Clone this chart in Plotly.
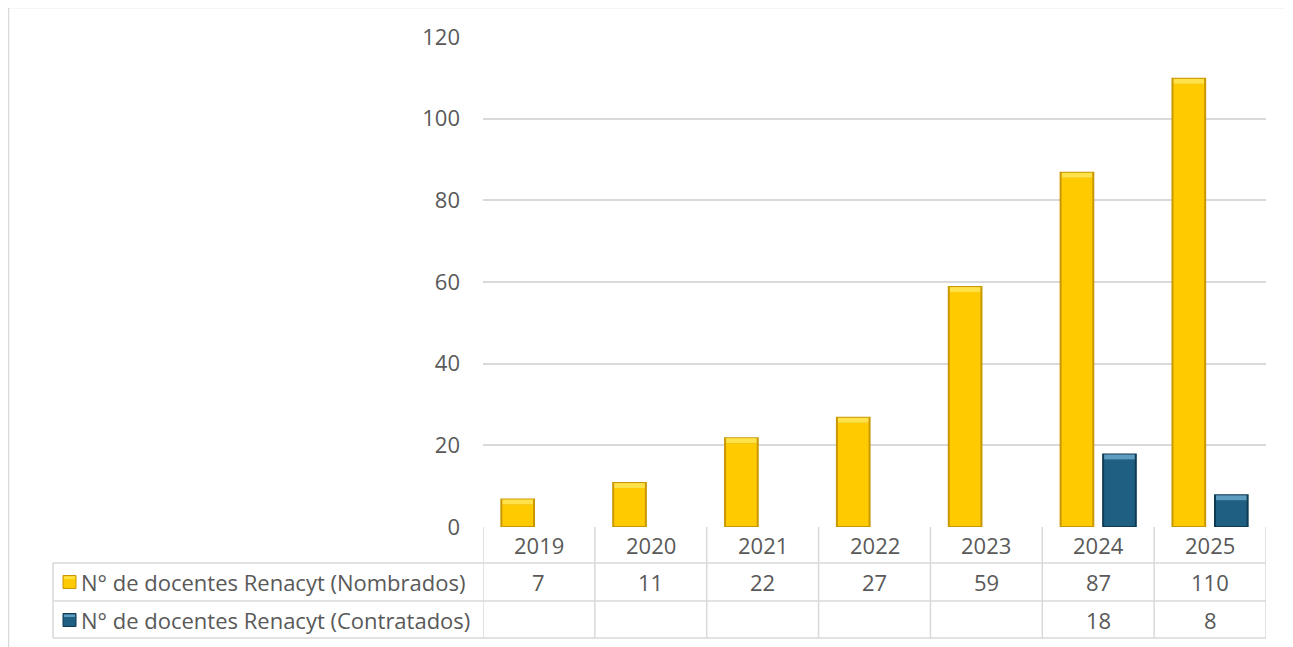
import plotly.graph_objects as go

years = ["2019", "2020", "2021", "2022", "2023", "2024", "2025"]
nombrados = [7, 11, 22, 27, 59, 87, 110]
contratados = [None, None, None, None, None, 18, 8]
series_names = ["N° de docentes Renacyt (Nombrados)", "N° de docentes Renacyt (Contratados)"]
y_ticks = [0, 20, 40, 60, 80, 100, 120]

# page offset of the plot div is 8px (body margin); positions below are page px
OFF = 8
W, H = 1285, 639
L, R, T, B = 483 - OFF, 1266 - OFF, 37 - OFF, 527 - OFF
pw, ph = R - L, B - T
YMAX = 120
cat_px = pw / len(years)
unit_px = ph / YMAX

def px_x(x):
    return (x - OFF - L) / pw

def px_y(y):
    return (B - (y - OFF)) / ph

grid = "#D9D9D9"
txt = "#595959"
FONT = "Open Sans, Liberation Sans, Arial, sans-serif"
FS = 22

styles = [
    dict(edge="#C99700", face="#FFCB00", top="#FFE24A", offset=-0.345),
    dict(edge="#0E3A52", face="#1F5F82", top="#5E9CC0", offset=0.035),
]
BW = 0.31
side = 2.0 / cat_px          # side bevel in category units
cap = 6.0 / unit_px          # top bevel in data units
rim = 1.0 / unit_px

fig = go.Figure()
for name, vals, st in zip(series_names, [nombrados, contratados], styles):
    xs = [i for i, v in enumerate(vals) if v is not None]
    vs = [v for v in vals if v is not None]
    # edge (dark body)
    fig.add_trace(go.Bar(x=xs, y=vs, name=name, width=BW, offset=st["offset"],
                         marker=dict(color=st["edge"], line=dict(width=0))))
    # face
    fig.add_trace(go.Bar(x=xs, y=[v - cap - rim for v in vs], base=[rim] * len(vs),
                         width=BW - 2 * side, offset=st["offset"] + side, showlegend=False,
                         marker=dict(color=st["face"], line=dict(width=0))))
    # top highlight
    fig.add_trace(go.Bar(x=xs, y=[cap - rim] * len(vs), base=[v - cap for v in vs],
                         width=BW - 2 * side, offset=st["offset"] + side, showlegend=False,
                         marker=dict(color=st["top"], line=dict(width=0))))

shapes = []
ann = []

# outer chart border
shapes.append(dict(type="rect", xref="paper", yref="paper",
                   x0=px_x(8.5), x1=px_x(1293 + 20), y0=px_y(647 + 20), y1=px_y(7.5),
                   line=dict(color=grid, width=1.5), layer="below"))

row_lines = [563, 601, 638]
row_centers = [582, 620]
header_center = 545

for yl in row_lines:
    shapes.append(dict(type="line", xref="paper", yref="paper",
                       x0=px_x(53), x1=1, y0=px_y(yl), y1=px_y(yl),
                       line=dict(color=grid, width=1.5)))
for i in range(len(years) + 1):
    shapes.append(dict(type="line", xref="x", yref="paper",
                       x0=i - 0.5, x1=i - 0.5, y0=px_y(638), y1=0,
                       line=dict(color=grid, width=1.5)))
shapes.append(dict(type="line", xref="paper", yref="paper",
                   x0=px_x(53), x1=px_x(53), y0=px_y(638), y1=px_y(563),
                   line=dict(color=grid, width=1.5)))

for i, yr in enumerate(years):
    ann.append(dict(x=i, xref="x", y=px_y(header_center), yref="paper",
                    xanchor="center", yanchor="middle",
                    text=yr, showarrow=False, font=dict(family=FONT, size=FS, color=txt)))

for vals, yc in zip([nombrados, contratados], row_centers):
    for i, v in enumerate(vals):
        if v is None:
            continue
        ann.append(dict(x=i, xref="x", y=px_y(yc), yref="paper",
                        xanchor="center", yanchor="middle",
                        text=str(v), showarrow=False, font=dict(family=FONT, size=FS, color=txt)))

for name, yc, st in zip(series_names, row_centers, styles):
    shapes.append(dict(type="rect", xref="paper", yref="paper",
                       x0=px_x(63), x1=px_x(76), y0=px_y(yc + 6.5), y1=px_y(yc - 6.5),
                       fillcolor=st["face"], line=dict(color=st["edge"], width=1)))
    shapes.append(dict(type="rect", xref="paper", yref="paper",
                       x0=px_x(64), x1=px_x(75), y0=px_y(yc - 3), y1=px_y(yc - 5.5),
                       fillcolor=st["top"], line=dict(width=0)))
    ann.append(dict(x=px_x(79), xref="paper", y=px_y(yc), yref="paper",
                    xanchor="left", yanchor="middle",
                    text=name, showarrow=False, font=dict(family=FONT, size=FS, color=txt)))

fig.update_layout(
    width=W, height=H,
    margin=dict(l=L, r=W - R, t=T, b=H - B, pad=0),
    paper_bgcolor="white", plot_bgcolor="white",
    barmode="overlay",
    showlegend=False,
    shapes=shapes, annotations=ann,
    xaxis=dict(range=[-0.5, len(years) - 0.5], showticklabels=False,
               showgrid=False, zeroline=False, showline=False, ticks=""),
    yaxis=dict(range=[0, YMAX], tickvals=y_ticks, showgrid=True, gridcolor=grid, gridwidth=1.5,
               zeroline=False, showline=False, ticks="", ticklabelstandoff=22,
               tickfont=dict(family=FONT, size=FS, color=txt)),
)

fig.write_html("out.html")
